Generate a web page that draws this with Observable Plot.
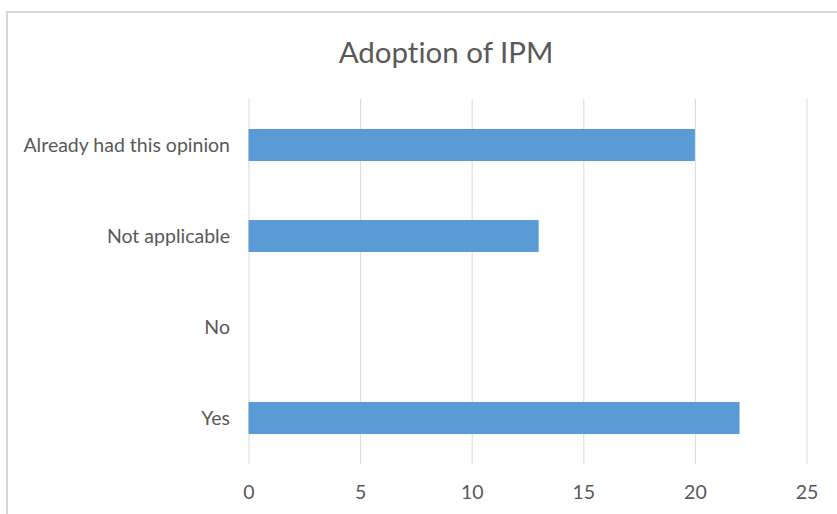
<!DOCTYPE html>
<html>
<head>
<meta charset="utf-8">
<script src="https://cdn.jsdelivr.net/npm/d3@7"></script>
<script src="https://cdn.jsdelivr.net/npm/@observablehq/plot@0.6"></script>
<style>
  html, body { margin: 0; padding: 0; background: #fff; font-variant-ligatures: none; }
  #wrap { position: relative; width: 837px; height: 514px; overflow: hidden; }
  #frame { position: absolute; left: 6px; top: 11px; width: 900px; height: 600px; border: 2px solid #d9d9d9; box-sizing: border-box; }
  #title { position: absolute; left: 0; top: 32px; width: 892px; text-align: center; font-family: Lato, sans-serif; font-size: 29.5px; line-height: 40px; color: #595959; font-variant-ligatures: none; }
  #chart { position: absolute; left: 0; top: 0; }
  #chart text { font-variant-ligatures: none; }
</style>
</head>
<body>
<div id="wrap">
  <div id="frame"></div>
  <div id="title">Adoption of IPM</div>
  <div id="chart"></div>
</div>
<script>
const categories = ["Already had this opinion", "Not applicable", "No", "Yes"];
const values = [20, 13, 0, 22];
const xTicks = [0, 5, 10, 15, 20, 25];

const data = categories.map((c, i) => ({category: c, value: values[i]}));

const chart = Plot.plot({
  width: 837,
  height: 514,
  marginLeft: 248.5,
  marginRight: 30.5,
  marginTop: 99,
  marginBottom: 50,
  style: {fontFamily: "Lato, sans-serif", fontSize: "19.5px", color: "#595959", background: "transparent"},
  x: {domain: [0, 25], ticks: xTicks, tickSize: 0, tickPadding: 21, label: null},
  y: {domain: categories, paddingInner: 0.65, paddingOuter: 0.325, tickSize: 0, tickPadding: 19, label: null},
  marks: [
    Plot.gridX(xTicks, {stroke: "#d9d9d9", strokeOpacity: 1, strokeWidth: 1}),
    Plot.barX(data, {x: "value", y: "category", fill: "#5b9bd5"})
  ]
});
document.getElementById("chart").appendChild(chart);
</script>
</body>
</html>
